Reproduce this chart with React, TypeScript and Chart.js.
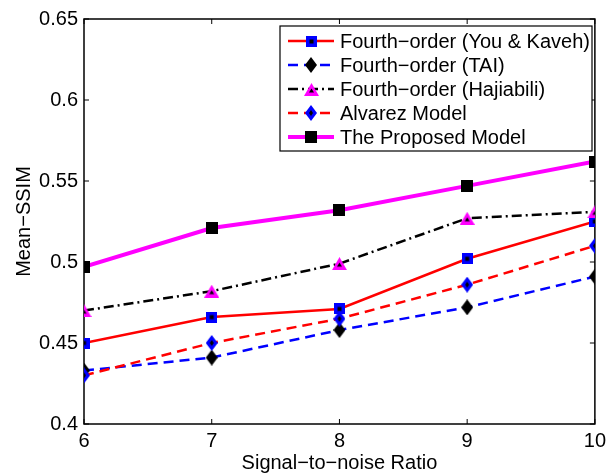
import React, { useEffect, useRef } from "react";
import { Chart, registerables } from "chart.js";

Chart.register(...registerables);

const snrValues = [6, 7, 8, 9, 10];
const youKaveh = [0.45, 0.466, 0.471, 0.502, 0.525];
const tai = [0.433, 0.441, 0.458, 0.472, 0.491];
const hajiabili = [0.47, 0.482, 0.499, 0.527, 0.531];
const alvarez = [0.43, 0.45, 0.465, 0.486, 0.51];
const proposed = [0.497, 0.521, 0.532, 0.547, 0.562];

const seriesNames = [
  "Fourth\u2212order (You & Kaveh)",
  "Fourth\u2212order (TAI)",
  "Fourth\u2212order (Hajiabili)",
  "Alvarez Model",
  "The Proposed Model",
];

const xTicks = [6, 7, 8, 9, 10];
const xTickLabels = ["6", "7", "8", "9", "10"];
const yTicks = [0.4, 0.45, 0.5, 0.55, 0.6, 0.65];
const yTickLabels = ["0.4", "0.45", "0.5", "0.55", "0.6", "0.65"];

const FONT = "'Liberation Sans', Arial, sans-serif";

function makeCanvas(w: number, h: number, draw: (c: CanvasRenderingContext2D) => void) {
  const cv = document.createElement("canvas");
  cv.width = w;
  cv.height = h;
  const c = cv.getContext("2d")!;
  draw(c);
  return cv;
}

function squareMarker(size: number, fill: string, inner: number, innerColor: string) {
  return makeCanvas(size, size, (c) => {
    c.fillStyle = fill;
    c.fillRect(0, 0, size, size);
    if (inner > 0) {
      c.fillStyle = innerColor;
      const o = (size - inner) / 2;
      c.fillRect(o, o, inner, inner);
    }
  });
}

function diamondMarker(w: number, h: number, fill: string, iw: number, ih: number, innerColor: string) {
  return makeCanvas(w, h, (c) => {
    const dia = (cx: number, cy: number, hw: number, hh: number, col: string) => {
      c.beginPath();
      c.moveTo(cx, cy - hh);
      c.lineTo(cx + hw, cy);
      c.lineTo(cx, cy + hh);
      c.lineTo(cx - hw, cy);
      c.closePath();
      c.fillStyle = col;
      c.fill();
    };
    dia(w / 2, h / 2, w / 2, h / 2, fill);
    if (iw > 0) dia(w / 2, h / 2, iw / 2, ih / 2, innerColor);
  });
}

function triangleMarker(w: number, h: number, fill: string, iw: number, ih: number, innerColor: string) {
  return makeCanvas(w, h, (c) => {
    const tri = (cx: number, cy: number, hw: number, hh: number, col: string) => {
      c.beginPath();
      c.moveTo(cx, cy - hh);
      c.lineTo(cx + hw, cy + hh);
      c.lineTo(cx - hw, cy + hh);
      c.closePath();
      c.fillStyle = col;
      c.fill();
    };
    tri(w / 2, h / 2, w / 2, h / 2, fill);
    if (iw > 0) tri(w / 2, h / 2 + 1, iw / 2, ih / 2, innerColor);
  });
}

export default function App() {
  const ref = useRef<HTMLCanvasElement | null>(null);

  useEffect(() => {
    if (!ref.current) return;

    const mYK = squareMarker(11, "#0000ff", 4, "#000000");
    const mTAI = diamondMarker(12, 16, "#000000", 0, 0, "#000000");
    const mHaj = triangleMarker(15, 13, "#ff00ff", 5, 4, "#000000");
    const mAlv = diamondMarker(12, 16, "#0000ff", 4, 6, "#000000");
    const mProp = squareMarker(12, "#000000", 0, "#000000");

    const styles = [
      { color: "#ff0000", width: 2.5, dash: [] as number[], marker: mYK },
      { color: "#0000ff", width: 2.5, dash: [10, 6], marker: mTAI },
      { color: "#000000", width: 2.5, dash: [10, 4, 2, 4], marker: mHaj },
      { color: "#ff0000", width: 2.5, dash: [10, 6], marker: mAlv },
      { color: "#ff00ff", width: 4, dash: [] as number[], marker: mProp },
    ];
    const values = [youKaveh, tai, hajiabili, alvarez, proposed];

    const datasets = values.map((vals, i) => ({
      label: seriesNames[i],
      data: vals.map((v, j) => ({ x: snrValues[j], y: v })),
      borderColor: styles[i].color,
      backgroundColor: styles[i].color,
      borderWidth: styles[i].width,
      borderDash: styles[i].dash,
      pointStyle: styles[i].marker,
      pointRadius: 6,
      tension: 0,
      fill: false,
      order: 5 - i,
    }));

    const boxPlugin = {
      id: "matlabBox",
      beforeDatasetsDraw(chart: any) {
        const { ctx, chartArea } = chart;
        const { left, right, top, bottom } = chartArea;
        const xs = chart.scales.x;
        const ys = chart.scales.y;
        ctx.save();
        ctx.strokeStyle = "#000";
        ctx.lineWidth = 1.5;
        ctx.strokeRect(left, top, right - left, bottom - top);
        const tl = 5;
        ctx.beginPath();
        xTicks.forEach((t) => {
          const px = xs.getPixelForValue(t);
          ctx.moveTo(px, bottom);
          ctx.lineTo(px, bottom - tl);
          ctx.moveTo(px, top);
          ctx.lineTo(px, top + tl);
        });
        yTicks.forEach((t) => {
          const py = ys.getPixelForValue(t);
          ctx.moveTo(left, py);
          ctx.lineTo(left + tl, py);
          ctx.moveTo(right, py);
          ctx.lineTo(right - tl, py);
        });
        ctx.lineWidth = 1;
        ctx.stroke();
        ctx.restore();
      },
    };

    const legendPlugin = {
      id: "matlabLegend",
      afterDraw(chart: any) {
        const { ctx } = chart;
        const bx = 280, by = 26, bw = 312, bh = 125;
        ctx.save();
        ctx.fillStyle = "#fff";
        ctx.fillRect(bx, by, bw, bh);
        ctx.strokeStyle = "#000";
        ctx.lineWidth = 1.2;
        ctx.strokeRect(bx, by, bw, bh);
        const rowY0 = 41;
        const rowStep = 24;
        seriesNames.forEach((name, i) => {
          const y = rowY0 + i * rowStep;
          const s = styles[i];
          ctx.beginPath();
          ctx.strokeStyle = s.color;
          ctx.lineWidth = s.width;
          ctx.setLineDash(s.dash);
          ctx.moveTo(288, y);
          ctx.lineTo(334, y);
          ctx.stroke();
          ctx.setLineDash([]);
          const m = s.marker;
          ctx.drawImage(m, Math.round(311 - m.width / 2), Math.round(y - m.height / 2));
          ctx.fillStyle = "#000";
          ctx.font = `20px ${FONT}`;
          ctx.textBaseline = "middle";
          ctx.textAlign = "left";
          ctx.fillText(name, 340, y + 1);
        });
        ctx.restore();
      },
    };

    const chart = new Chart(ref.current, {
      type: "line",
      data: { datasets },
      plugins: [boxPlugin, legendPlugin],
      options: {
        responsive: false,
        animation: false,
        devicePixelRatio: 1,
        layout: { padding: { left: 0, top: 19, right: 12, bottom: 0 } },
        plugins: {
          legend: { display: false },
          tooltip: { enabled: false },
        },
        scales: {
          x: {
            type: "linear",
            min: 6,
            max: 10,
            grid: { display: false, drawTicks: false },
            border: { display: false },
            afterBuildTicks: (scale: any) => {
              scale.ticks = xTicks.map((v) => ({ value: v }));
            },
            afterFit: (scale: any) => {
              scale.height = 51;
            },
            ticks: {
              color: "#000",
              font: { family: FONT, size: 20 },
              padding: 5,
              maxRotation: 0,
              callback: (v: any) => {
                const i = xTicks.indexOf(Number(v));
                return i >= 0 ? xTickLabels[i] : "";
              },
            },
            title: {
              display: true,
              text: "Signal\u2212to\u2212noise Ratio",
              color: "#000",
              font: { family: FONT, size: 20 },
              padding: { top: 0, bottom: 0 },
            },
          },
          y: {
            type: "linear",
            min: 0.4,
            max: 0.65,
            grid: { display: false, drawTicks: false },
            border: { display: false },
            afterBuildTicks: (scale: any) => {
              scale.ticks = yTicks.map((v) => ({ value: v }));
            },
            afterFit: (scale: any) => {
              scale.width = 84;
            },
            ticks: {
              color: "#000",
              font: { family: FONT, size: 20 },
              padding: 6,
              callback: (v: any) => {
                const i = yTicks.findIndex((t) => Math.abs(t - Number(v)) < 1e-9);
                return i >= 0 ? yTickLabels[i] : "";
              },
            },
            title: {
              display: true,
              text: "Mean\u2212SSIM",
              color: "#000",
              font: { family: FONT, size: 20 },
              padding: { top: 12, bottom: 0 },
            },
          },
        },
      },
    } as any);

    return () => chart.destroy();
  }, []);

  return (
    <div style={{ position: "absolute", left: 0, top: 0, width: 611, height: 475, background: "#fff" }}>
      <canvas ref={ref} width={611} height={475} style={{ display: "block" }} />
    </div>
  );
}
